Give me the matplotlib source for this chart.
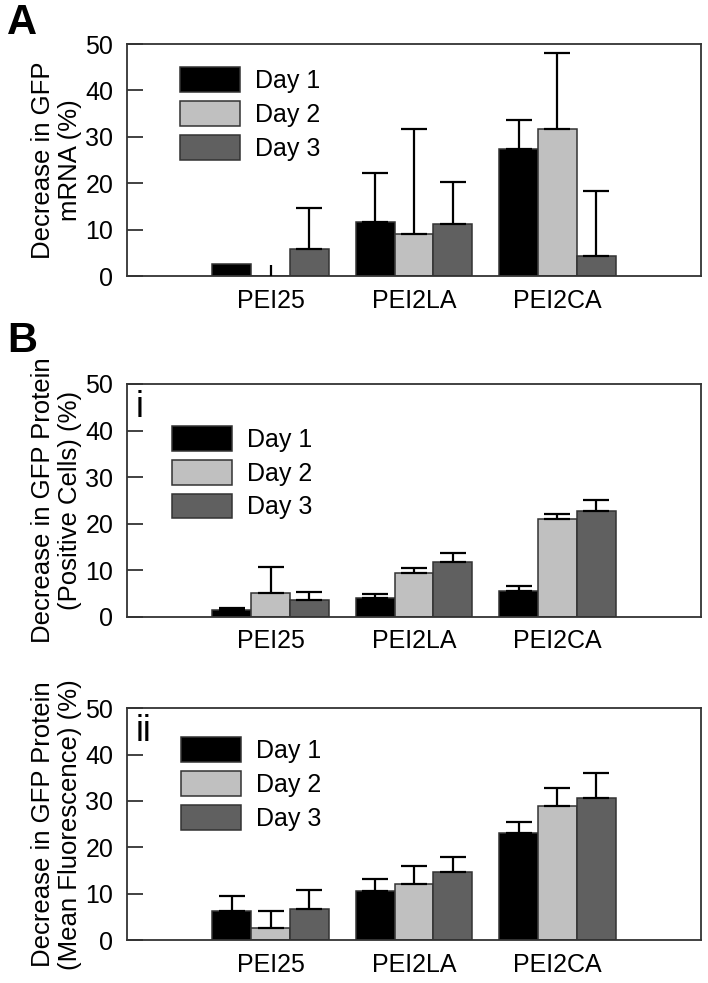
import numpy as np
import matplotlib
matplotlib.use('Agg')
import matplotlib.pyplot as plt
from matplotlib.patches import Patch

groups = ['PEI25', 'PEI2LA', 'PEI2CA']
days = ['Day 1', 'Day 2', 'Day 3']
colors = ['#000000', '#c0c0c0', '#606060']

# panel A: mRNA
mrna_vals = [[2.5, 11.6, 27.3], [0.0, 9.0, 31.7], [5.9, 11.3, 4.3]]
mrna_errs = [[0.0, 10.5, 6.3], [2.4, 22.7, 16.4], [8.7, 9.0, 14.0]]

# panel B i: positive cells
pos_vals = [[1.5, 4.1, 5.6], [5.2, 9.3, 21.0], [3.6, 11.8, 22.7]]
pos_errs = [[0.4, 0.8, 1.0], [5.5, 1.1, 1.1], [1.7, 1.8, 2.4]]

# panel B ii: mean fluorescence
mf_vals = [[6.3, 10.5, 23.1], [2.5, 12.0, 29.0], [6.8, 14.7, 30.6]]
mf_errs = [[3.1, 2.7, 2.3], [3.8, 4.0, 3.7], [4.0, 3.3, 5.4]]

font = ['Liberation Sans', 'DejaVu Sans']


def draw_panel(ax, vals, errs, ylabel, leg_xy, tag=None, nocap=()):
    x = np.arange(1, len(groups) + 1)
    w = 0.27
    for i in range(len(days)):
        xi = x + (i - 1) * w
        ax.bar(xi, vals[i], w, color=colors[i], edgecolor='#333333',
               linewidth=1.1, zorder=2)
        for j in range(len(groups)):
            if errs[i][j] <= 0:
                continue
            cap = 0 if (i, j) in nocap else 9.5
            ax.errorbar(xi[j], vals[i][j], yerr=[[0], [errs[i][j]]],
                        fmt='none', ecolor='black', elinewidth=1.6,
                        capsize=cap, capthick=1.6, zorder=3)
    ax.set_xlim(0, 4)
    ax.set_ylim(0, 50)
    ax.set_xticks(x)
    ax.set_xticklabels(groups, family=font, fontsize=18)
    ax.set_yticks([0, 10, 20, 30, 40, 50])
    ax.tick_params(axis='x', length=0, pad=9)
    ax.tick_params(axis='y', direction='in', length=11.5, width=1.3,
                   color='#333333', pad=10, labelsize=18)
    for lab in ax.get_yticklabels():
        lab.set_family(font)
    for s in ax.spines.values():
        s.set_color('#333333')
        s.set_linewidth(1.3)
    ax.set_ylabel(ylabel, family=font, fontsize=18.5, linespacing=1.2,
                  labelpad=2)
    handles = [Patch(facecolor=colors[i], edgecolor='#333333', linewidth=1.1,
                     label=days[i]) for i in range(len(days))]
    ax.legend(handles=handles, loc='upper left', bbox_to_anchor=leg_xy,
              frameon=False, borderpad=0, borderaxespad=0,
              handlelength=2.4, handleheight=1.15, handletextpad=0.6,
              labelspacing=0.32, prop={'family': font, 'size': 18})
    if tag:
        ax.text(0.015, 0.975, tag, transform=ax.transAxes, va='top',
                ha='left', family=font, fontsize=26)


fig = plt.figure(figsize=(7.08, 9.83), dpi=100)
axA = fig.add_axes([0.1794, 0.7192, 0.8107, 0.236])
axB1 = fig.add_axes([0.1794, 0.3726, 0.8107, 0.2368])
axB2 = fig.add_axes([0.1794, 0.0437, 0.8107, 0.2358])

draw_panel(axA, mrna_vals, mrna_errs, 'Decrease in GFP\nmRNA (%)',
           (0.092, 0.9), nocap=[(1, 0)])
draw_panel(axB1, pos_vals, pos_errs,
           'Decrease in GFP Protein\n(Positive Cells) (%)', (0.078, 0.82),
           tag='i')
draw_panel(axB2, mf_vals, mf_errs,
           'Decrease in GFP Protein\n(Mean Fluorescence) (%)', (0.094, 0.875),
           tag='ii')

fig.text(0.01, 0.997, 'A', ha='left', va='top', family=font,
         fontweight='bold', fontsize=30)
fig.text(0.01, 0.673, 'B', ha='left', va='top', family=font,
         fontweight='bold', fontsize=30)

fig.savefig('out.png', dpi=100)
